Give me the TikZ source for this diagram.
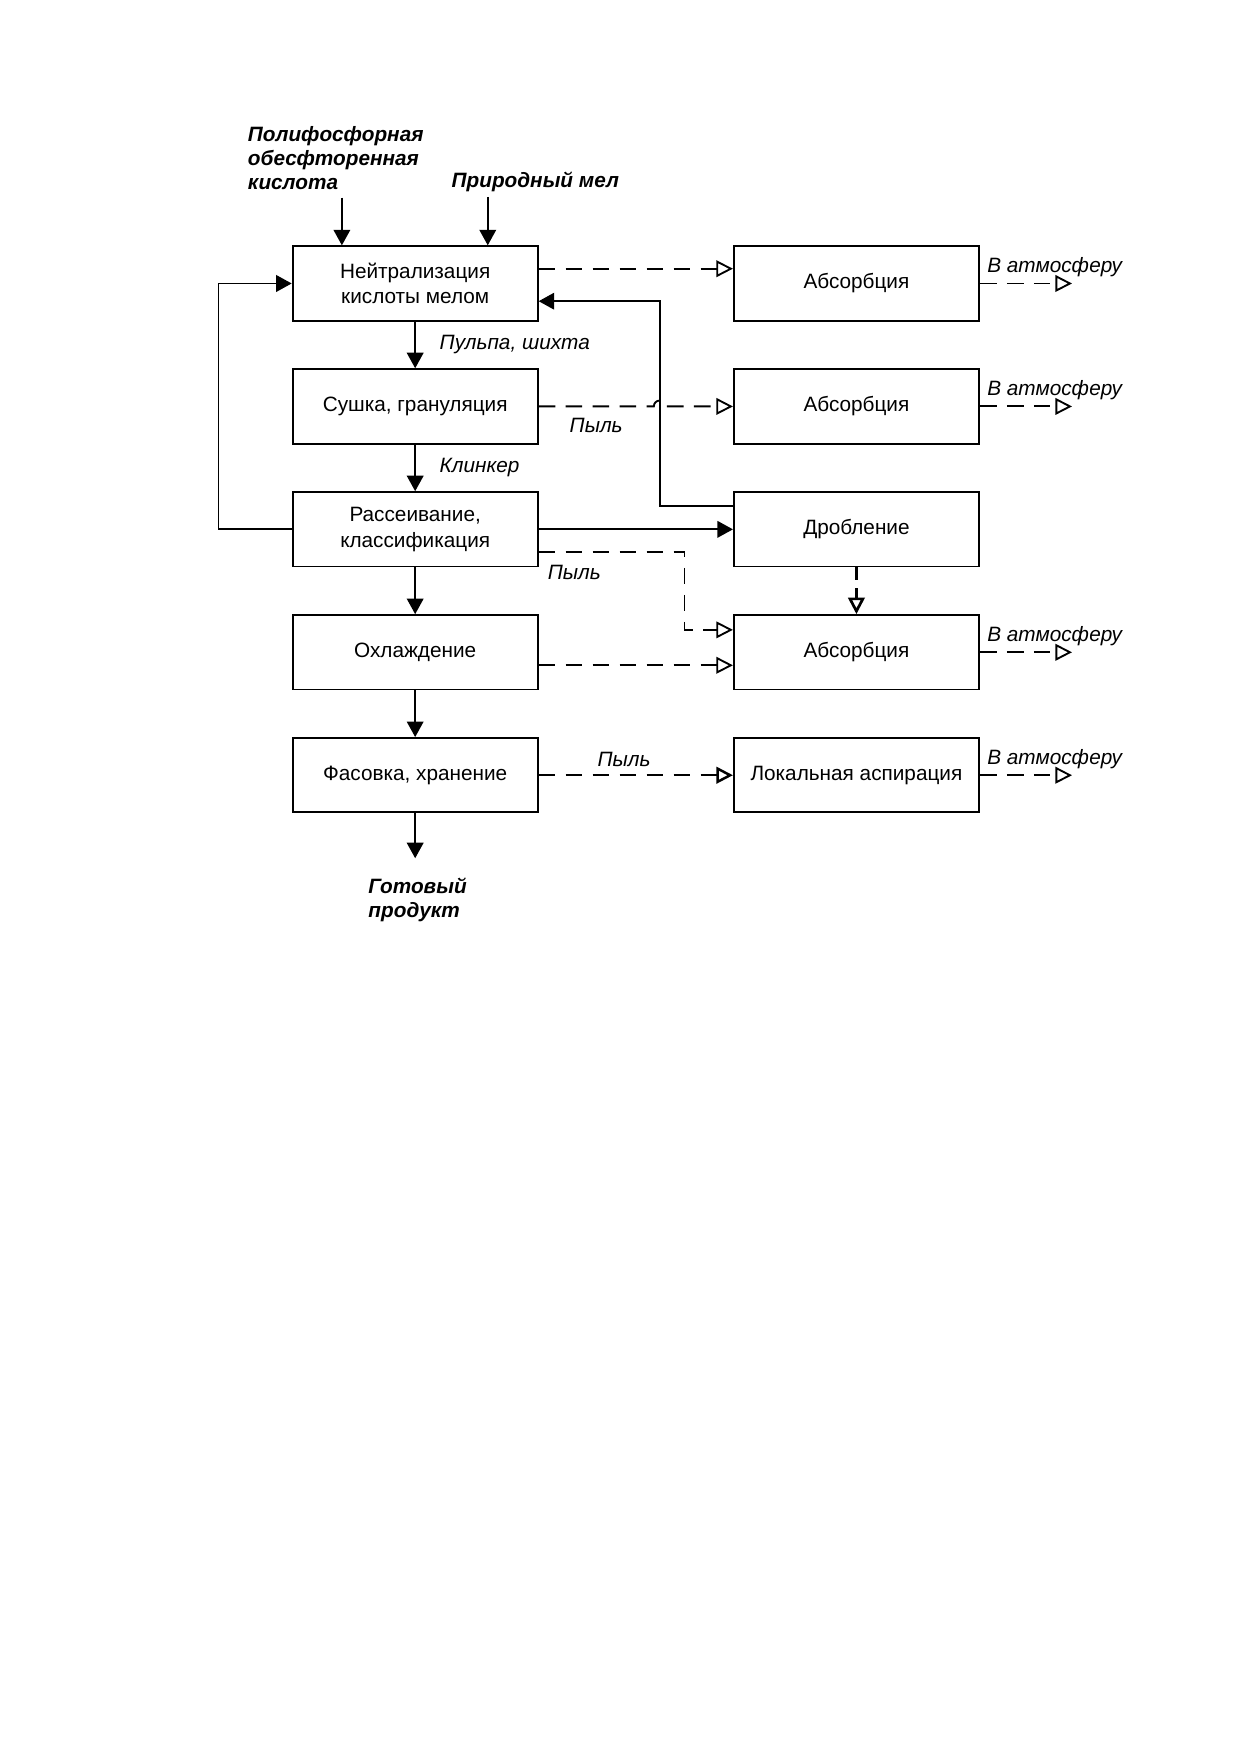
\documentclass[tikz,border=0pt]{standalone}
\usepackage{fontspec}
\setmainfont{Liberation Sans}
\usetikzlibrary{arrows.meta, positioning, calc}
\tikzset{stage/.style={draw, line width=0.9pt, minimum width=41.5mm, minimum height=12.6mm, align=center, font=\fontsize{10}{12.3}\selectfont}}
\tikzset{raw/.style={align=left, inner sep=0pt, outer xsep=0pt, outer ysep=1.4mm, font=\fontsize{10}{11.5}\selectfont\bfseries\itshape}}
\tikzset{note/.style={inner sep=0pt, font=\fontsize{10}{12}\selectfont\itshape}}
\tikzset{exhaust/.style={note, pos=0, anchor=base west, xshift=1.1mm, yshift=1.8mm}}
\tikzset{flow/.style={line width=0.9pt, -{Triangle[length=7.5pt, width=8pt]}}}
\tikzset{dust/.style={line width=0.9pt, dash pattern=on 8pt off 5pt, -{Triangle[open, length=8pt, width=8pt]}}}

\begin{document}
\begin{tikzpicture}[node distance=7.9mm]
\useasboundingbox (0,0) rectangle (210mm,-297mm);

% main line
\node[stage] (neut) at (70.3mm,-48mm) {Нейтрализация\\кислоты мелом};
\node[stage, below=of neut] (dry) {Сушка, грануляция};
\node[stage, below=of dry] (sieve) {Рассеивание,\\классификация};
\node[stage, below=of sieve] (cool) {Охлаждение};
\node[stage, below=of cool] (pack) {Фасовка, хранение};

% gas cleaning
\node[stage, right=32.9mm of neut] (abs1) {Абсорбция};
\node[stage, right=32.9mm of dry] (abs2) {Абсорбция};
\node[stage, right=32.9mm of sieve] (drob) {Дробление};
\node[stage, right=32.9mm of cool] (abs3) {Абсорбция};
\node[stage, right=32.9mm of pack] (local) {Локальная аспирация};

% inputs and product
\node[raw, anchor=south west] (acid) at ($(neut.north west)+(-7.4mm,8.1mm)$) {Полифосфорная\\обесфторенная\\кислота};
\node[raw, outer ysep=0.8mm, anchor=south west] (mel) at ($(neut.north west)+(27.1mm,8.2mm)$) {Природный мел};
\node[raw, outer ysep=3.4mm, anchor=north west] (product) at ($(pack.south west)+(13mm,-7.6mm)$) {Готовый\\продукт};
\coordinate (acidin) at ($(neut.north west)+(8.5mm,0)$);
\coordinate (melin) at ($(neut.north west)+(33.2mm,0)$);
\coordinate (riser) at ($(drob.west)+(-12.4mm,4mm)$);

\draw[flow] (acid.south -| acidin) -- (acidin);
\draw[flow] (mel.south -| melin) -- (melin);
\draw[flow] (neut) -- node[note, right=4mm] {Пульпа, шихта} (dry);
\draw[flow] (dry) -- node[note, right=4mm] {Клинкер} (sieve);
\draw[flow] (sieve) -- (cool);
\draw[flow] (cool) -- (pack);
\draw[flow] (pack) -- (pack |- product.north);
\draw[flow] (sieve) -- (drob);
\draw[flow] (sieve.west) -- ++(-12.4mm,0) |- (neut.west);
\draw[flow] ([yshift=4mm]drob.west) -- (riser) |- ([yshift=-3mm]neut.east);

\draw[dust] ([yshift=2.5mm]neut.east) -- ([yshift=2.5mm]abs1.west);
\draw[dust] (dry.east) -- node[note, pos=0, anchor=north west, xshift=5.1mm, yshift=-1.8mm] {Пыль} ($(dry.east -| riser)+(-1mm,0)$) arc[start angle=180, end angle=0, radius=1mm] -- (abs2.west);
\draw[dust] ([yshift=-3.8mm]sieve.east) -- node[note, pos=0, anchor=north west, xshift=1.4mm, yshift=-2.1mm] {Пыль} ++(24.7mm,0) |- ([yshift=3.8mm]abs3.west);
\draw[dust] ([yshift=-2.2mm]cool.east) -- ([yshift=-2.2mm]cool.east -| abs3.west);
\draw[dust, line width=1.3pt, dash pattern=on 6pt off 4pt] (drob) -- (abs3);
\draw[dust, line width=1.2pt] (pack) -- node[note, above, xshift=-2mm, yshift=1.2mm] {Пыль} (local);

\foreach \src in {abs1,abs2,abs3,local}{
  \coordinate[right=15.6mm of \src.east] (\src-air);
  \draw[dust] (\src.east) -- node[exhaust] {В атмосферу} (\src-air);
}
\end{tikzpicture}
\end{document}
